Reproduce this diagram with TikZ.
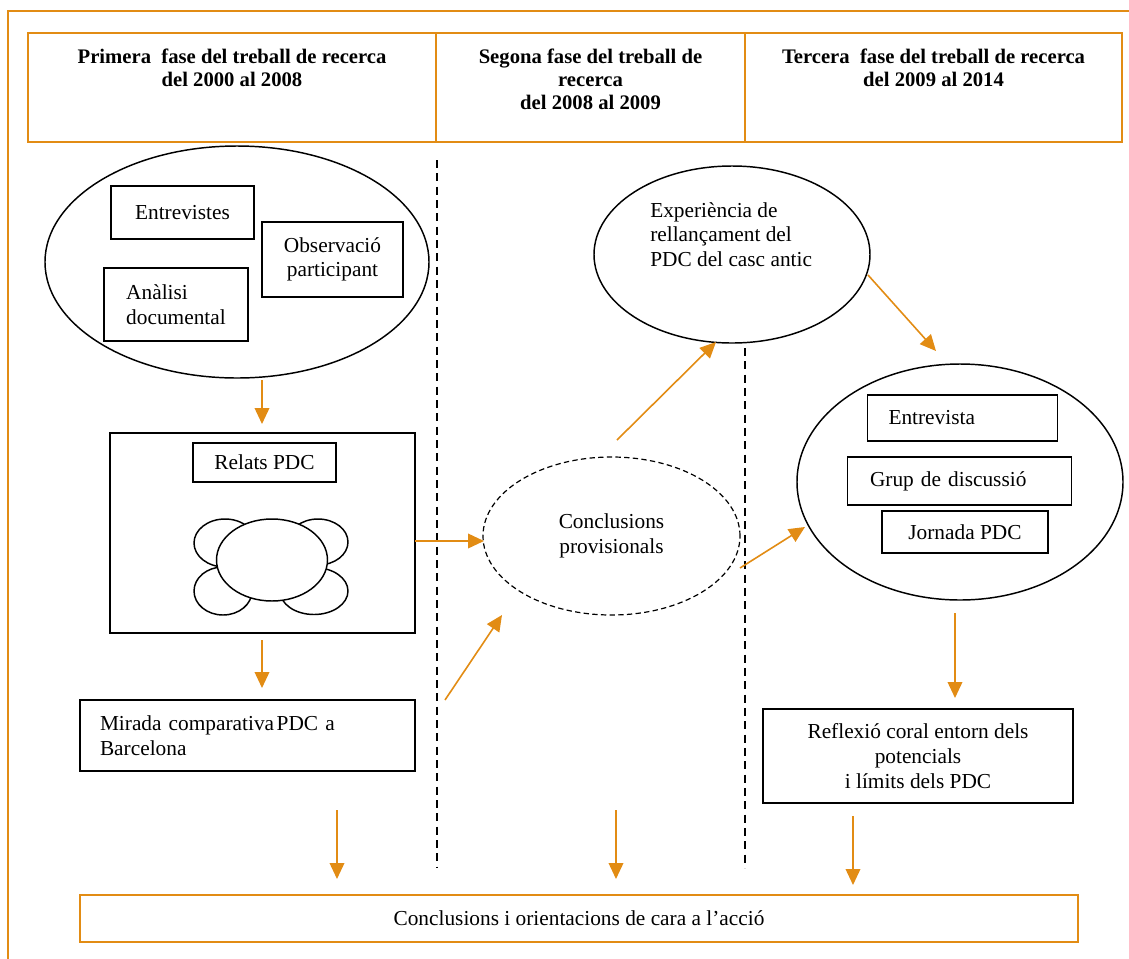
\documentclass[tikz,border=0pt]{standalone}
\usepackage{fontspec}
\setmainfont{Liberation Serif}
\usetikzlibrary{shapes.geometric,arrows.meta}
\definecolor{frameorange}{RGB}{226,140,20}
\tikzset{
  bx/.style={draw=black,line width=1.1pt,fill=white,inner sep=0pt,font=\fontsize{16}{18.5}\selectfont},
  ell/.style={draw=black,line width=1.1pt,ellipse,inner sep=0pt,fill=white,font=\fontsize{16}{18.5}\selectfont},
  petal/.style={draw=black,line width=1.1pt,ellipse,inner sep=0pt,fill=white},
  arr/.style={draw=frameorange,line width=1.2pt,-{Triangle[length=12pt,width=11pt]}},
  sep/.style={draw=black,line width=0.9pt,dash pattern=on 6pt off 4pt},
  hdr/.style={anchor=north,align=center,font=\bfseries\fontsize{15.5}{17.3}\selectfont},
  obox/.style={draw=frameorange,line width=1.5pt,inner sep=0pt,font=\fontsize{16}{18.5}\selectfont}
}
\begin{document}
\begin{tikzpicture}[x=0.75pt,y=-0.75pt]
\useasboundingbox (0,0) rectangle (1129,958);
% outer frame
\draw[frameorange,line width=1.5pt] (8,980) -- (8,11) -- (1140,11);
% header table
\draw[frameorange,line width=1.5pt] (28,33) rectangle (1122,142);
\draw[frameorange,line width=1.2pt] (436,33) -- (436,142) (745,33) -- (745,142);
\node[hdr] (h1) at (232,44) {Primera\ \ fase del treball de recerca\\del 2000 al 2008};
\node[hdr] (h2) at (590.5,44) {Segona fase del treball de\\recerca\\del 2008 al 2009};
\node[hdr] (h3) at (933.5,44) {Tercera\ \ fase del treball de recerca\\del 2009 al 2014};
% dashed separators
\draw[sep] (437,160) -- (437,868);
\draw[sep] (745,348) -- (745,868);
% phase 1
\node[ell,minimum width=288pt,minimum height=174pt] (e1) at (237,262) {};
\node[bx,minimum width=107.25pt,minimum height=39.75pt] (entr) at (182.5,212.5) {Entrevistes};
\node[bx,minimum width=105.75pt,minimum height=56.25pt,align=center] (obs) at (332.5,259.5) {Observació\\participant};
\node[bx,minimum width=108pt,minimum height=54.75pt,align=left] (anal) at (176,304.5) {Anàlisi\\documental};
\node[bx,minimum width=228.75pt,minimum height=150pt] (big) at (262.5,533) {};
\node[bx,minimum width=107.25pt,minimum height=29.25pt] (rel) at (264.5,462.5) {Relats PDC};
\node[petal,minimum width=46.5pt,minimum height=36pt] (p1) at (225,543) {};
\node[petal,minimum width=45pt,minimum height=34.5pt] (p2) at (318,542) {};
\node[petal,minimum width=43.5pt,minimum height=36pt] (p3) at (223,591) {};
\node[petal,minimum width=51pt,minimum height=35.25pt] (p4) at (314,591) {};
\node[petal,minimum width=83.25pt,minimum height=61.5pt] (core) at (272,560) {};
\node[bx,minimum height=53.25pt,text width=221.25pt,inner xsep=15pt,align=left] (mir) at (247.5,735.5) {Mirada comparativa\hspace{0.12em}PDC a\\Barcelona};
% phase 2
\node[ell,draw=black,line width=0.9pt,dash pattern=on 4pt off 2.5pt,minimum width=192.75pt,minimum height=118.5pt,align=center] (conc) at (611.5,536) {Conclusions\\provisionals};
\node[ell,minimum width=207pt,minimum height=132.75pt] (exp) at (732,254.5) {};
\node[anchor=north west,inner sep=0pt,align=left,font=\fontsize{16}{18.4}\selectfont] (expt) at (650,202) {Experiència de\\rellançament del\\PDC del casc antic};
% phase 3
\node[ell,minimum width=244.5pt,minimum height=177pt] (e3) at (960,482) {};
\node[bx,minimum height=34.5pt,text width=111pt,inner xsep=15.75pt,align=left] (ent2) at (962.5,418) {Entrevista};
\node[bx,minimum height=36pt,text width=134.25pt,inner xsep=16.9pt,align=left] (grup) at (959.5,481) {Grup de discussió};
\node[bx,minimum width=124.5pt,minimum height=31.5pt] (jorn) at (965,532) {Jornada PDC};
\node[bx,minimum width=232.5pt,minimum height=70.5pt,align=center] (refl) at (918,756) {Reflexió coral entorn dels\\potencials\\i límits dels PDC};
% bottom box
\node[obox,minimum width=748.5pt,minimum height=35.25pt] (fin) at (579,918.5) {Conclusions i orientacions de cara a l’acció};
% arrow end points
\coordinate (a1s) at (262,380); \coordinate (a1e) at (262,424);
\coordinate (a2s) at (262,640); \coordinate (a2e) at (262,688);
\coordinate (a3s) at (415,541); \coordinate (a3e) at (484,541);
\coordinate (a4s) at (445,700); \coordinate (a4e) at (502,615);
\coordinate (a5s) at (617,440); \coordinate (a5e) at (716,342);
\coordinate (a6s) at (868,275); \coordinate (a6e) at (936,351);
\coordinate (a7s) at (740,568); \coordinate (a7e) at (805,527);
\coordinate (a8s) at (955,613); \coordinate (a8e) at (955,698);
\coordinate (a9s) at (337,810); \coordinate (a9e) at (337,879);
\coordinate (a10s) at (616,810); \coordinate (a10e) at (616,879);
\coordinate (a11s) at (853,816); \coordinate (a11e) at (853,885);
\foreach \i in {1,...,11} { \draw[arr] (a\i s) -- (a\i e); }
\end{tikzpicture}
\end{document}
